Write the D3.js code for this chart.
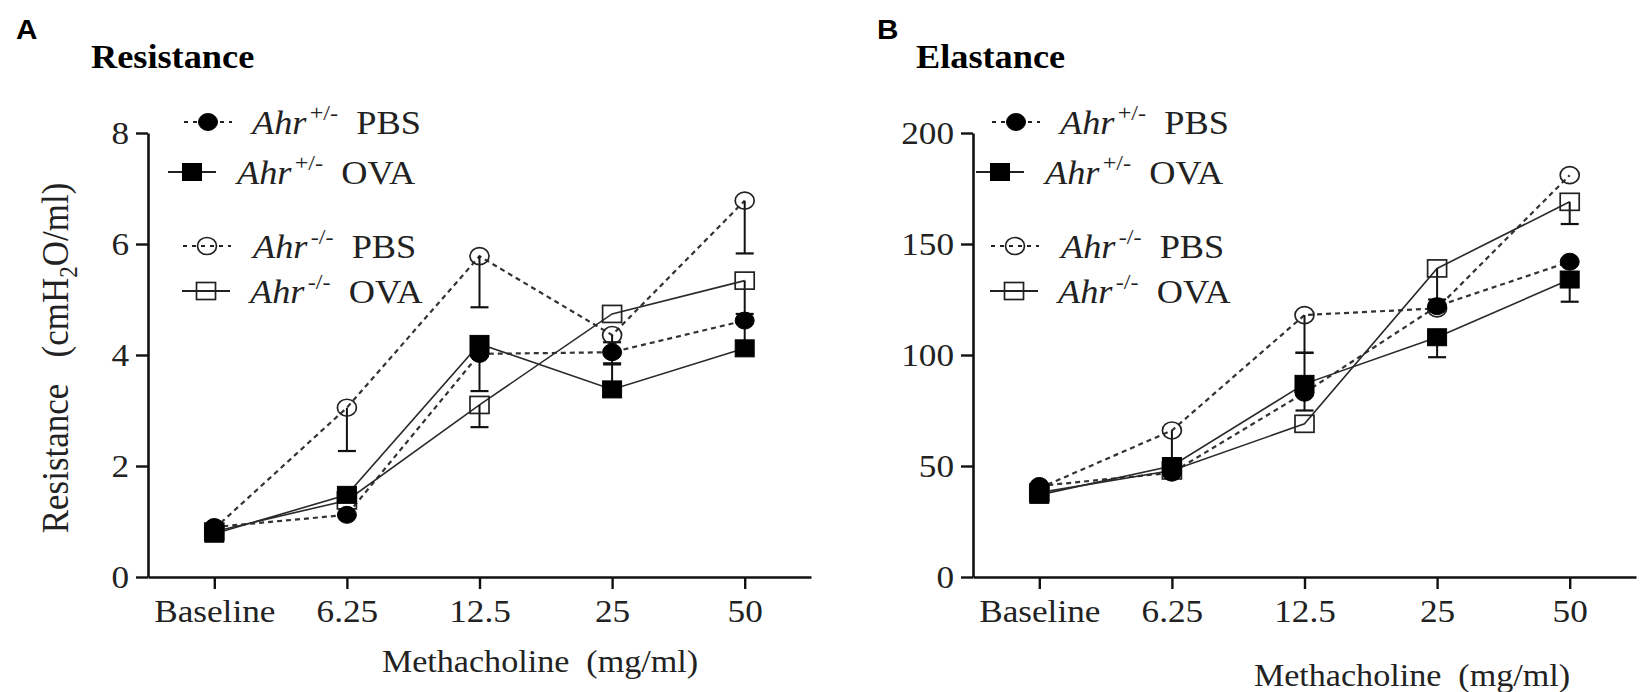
<!DOCTYPE html>
<html>
<head>
<meta charset="utf-8">
<script src="https://cdn.jsdelivr.net/npm/d3@7"></script>
<style>
  body { margin: 0; background: #fff; }
  svg { display: block; }
</style>
</head>
<body>
<div id="chart"></div>
<script>
// Methacholine doses (x categories)
const doses = ["Baseline", "6.25", "12.5", "25", "50"];

// Legend groups: genotype superscript and treatment
const groupGeno = ["+/-", "+/-", "-/-", "-/-"];
const groupTreat = ["PBS", "OVA", "PBS", "OVA"];

// Panel A - Resistance (cmH2O/ml)
const resHetPBS = [0.90, 1.12, 4.02, 4.05, 4.62];
const resHetOVA = [0.78, 1.48, 4.20, 3.38, 4.12];
const resKoPBS  = [0.87, 3.05, 5.78, 4.36, 6.78];
const resKoOVA  = [0.82, 1.38, 3.10, 4.74, 5.34];
// SEM (negative = bar drawn below the point, 0 = hidden)
const resHetPBSErr = [0, 0, 0, -0.20, -0.40];
const resHetOVAErr = [0, 0, -0.85, 0.45, 0];
const resKoPBSErr  = [0, -0.78, -0.92, -0.13, -0.95];
const resKoOVAErr  = [0, 0, -0.40, 0, -0.60];
const resTicks = [0, 2, 4, 6, 8];

// Panel B - Elastance
const elaHetPBS = [41, 47, 83, 122, 142];
const elaHetOVA = [37, 50, 87, 108, 134];
const elaKoPBS  = [40, 66, 118, 121, 181];
const elaKoOVA  = [38, 48, 69, 139, 169];
const elaHetPBSErr = [0, 0, -8, 0, 0];
const elaHetOVAErr = [0, 0, 14, -9, -10];
const elaKoPBSErr  = [0, -14, -17, 0, 0];
const elaKoOVAErr  = [0, 0, 0, -14, -10];
const elaTicks = [0, 50, 100, 150, 200];

const W = 1642, H = 692;
const serif = "'Liberation Serif', 'Times New Roman', serif";
const sx = 1.1; // the source figure is slightly stretched horizontally

const svg = d3.select("#chart").append("svg")
    .attr("width", W)
    .attr("height", H);

// series styles: filled circle dashed, filled square solid, open circle dashed, open square solid
const styles = [
    {shape: "circle", filled: true,  dashed: true},
    {shape: "square", filled: true,  dashed: false},
    {shape: "circle", filled: false, dashed: true},
    {shape: "square", filled: false, dashed: false}
];

function drawMarker(g, shape, filled, cx, cy)
{
    const rx = 9.5, ry = 8.5;
    let m;
    if (shape === "circle")
    {
        m = g.append("ellipse").attr("cx", cx).attr("cy", cy).attr("rx", rx).attr("ry", ry);
    }
    else
    {
        m = g.append("rect").attr("x", cx - rx).attr("y", cy - ry)
            .attr("width", rx * 2).attr("height", ry * 2);
    }
    if (filled)
    {
        m.attr("fill", "#000").attr("stroke", "#000").attr("stroke-width", 1);
    }
    else
    {
        m.attr("fill", "none").attr("stroke", "#222").attr("stroke-width", 1.7);
    }
}

function stretchText(sel, x, y)
{
    return sel.attr("transform", `translate(${x},${y}) scale(${sx},1)`);
}

function drawPanel(p)
{
    const g = svg.append("g");

    const x = d3.scalePoint()
        .domain(doses)
        .range([p.left, p.right])
        .padding(0.5);

    const y = d3.scaleLinear()
        .domain([0, d3.max(p.ticks)])
        .range([577, 133]);

    // Panel letter
    stretchText(g.append("text"), p.letterX, 39)
        .text(p.letter)
        .attr("font-family", "'Liberation Sans', Arial, sans-serif")
        .attr("font-weight", 700)
        .attr("font-size", "27px");

    // Panel title
    stretchText(g.append("text"), p.left - 57, 68)
        .text(p.title)
        .attr("font-family", serif)
        .attr("font-weight", 700)
        .attr("font-size", "33px");

    // Y axis
    const yAxis = g.append("g")
        .attr("transform", `translate(${p.left},0)`)
        .call(d3.axisLeft(y).tickValues(p.ticks).tickSize(12).tickSizeOuter(0).tickPadding(7));
    // X axis
    const xAxis = g.append("g")
        .attr("transform", `translate(0,${y(0)})`)
        .call(d3.axisBottom(x).tickSize(12).tickSizeOuter(0).tickPadding(10));

    [yAxis, xAxis].forEach(ax =>
    {
        ax.select(".domain").attr("stroke", "#111").attr("stroke-width", 2.6);
        ax.selectAll(".tick line").attr("stroke", "#111").attr("stroke-width", 2.4);
        ax.selectAll(".tick text")
            .attr("fill", "#222")
            .attr("font-family", serif)
            .attr("font-size", "32px");
    });
    yAxis.selectAll(".tick text").attr("transform", `scale(${sx},1)`).attr("x", -19 / sx);
    xAxis.selectAll(".tick text").attr("transform", `scale(${sx},1)`);

    // X axis title
    stretchText(g.append("text"), p.xTitleX, p.xTitleY)
        .attr("text-anchor", "middle")
        .attr("font-family", serif)
        .attr("font-size", "31px")
        .attr("fill", "#222")
        .attr("xml:space", "preserve")
        .text("Methacholine  (mg/ml)");

    // Y axis title
    if (p.yTitle)
    {
        const t = g.append("text")
            .attr("transform", `translate(68,358) rotate(-90) scale(1,${sx})`)
            .attr("text-anchor", "middle")
            .attr("font-family", serif)
            .attr("font-size", "35px")
            .attr("fill", "#222")
            .attr("xml:space", "preserve");
        t.append("tspan").text("Resistance   (cmH");
        t.append("tspan").attr("font-size", "23px").attr("dy", 8).text("2");
        t.append("tspan").attr("dy", -8).text("O/ml)");
    }

    // Lines
    p.series.forEach((s, i) =>
    {
        const line = d3.line()
            .x((d, j) => x(doses[j]))
            .y(d => y(d));
        g.append("path")
            .datum(s.values)
            .attr("d", line)
            .attr("fill", "none")
            .attr("stroke", styles[i].dashed ? "#333" : "#2a2a2a")
            .attr("stroke-width", styles[i].dashed ? 2.2 : 1.6)
            .attr("stroke-dasharray", styles[i].dashed ? "5,4" : null);
    });

    // Error bars
    p.series.forEach((s) =>
    {
        s.err.forEach((e, j) =>
        {
            if (e === 0) return;
            const cx = x(doses[j]);
            const y0 = y(s.values[j]);
            const y1 = y(s.values[j] + e);
            g.append("line")
                .attr("x1", cx).attr("x2", cx)
                .attr("y1", y0).attr("y2", y1)
                .attr("stroke", "#111").attr("stroke-width", 2);
            g.append("line")
                .attr("x1", cx - 9).attr("x2", cx + 9)
                .attr("y1", y1).attr("y2", y1)
                .attr("stroke", "#111").attr("stroke-width", 2.2);
        });
    });

    // Markers, open ones first so filled ones sit on top
    [2, 3, 0, 1].forEach(i =>
    {
        p.series[i].values.forEach((v, j) =>
        {
            drawMarker(g, styles[i].shape, styles[i].filled, x(doses[j]), y(v));
        });
    });

    // Legend
    const legY = [122, 172, 246, 291];
    const legX = [208, 192, 207, 206];
    const legHalf = 24;
    const legText = [252, 237, 253, 250];
    const off = p.legendOffset;
    groupTreat.forEach((treat, i) =>
    {
        const lx = legX[i] + off, ly = legY[i];
        g.append("line")
            .attr("x1", lx - legHalf).attr("x2", lx + legHalf)
            .attr("y1", ly).attr("y2", ly)
            .attr("stroke", "#222")
            .attr("stroke-width", styles[i].dashed ? 2.2 : 1.8)
            .attr("stroke-dasharray", styles[i].dashed ? "4,5" : null);
        drawMarker(g, styles[i].shape, styles[i].filled, lx, ly);

        const t = stretchText(g.append("text"), legText[i] + off, ly + 12)
            .attr("font-family", serif)
            .attr("font-size", "33px")
            .attr("fill", "#222")
            .attr("xml:space", "preserve");
        t.append("tspan").attr("font-style", "italic").text("Ahr");
        t.append("tspan").attr("font-size", "22px").attr("dy", -14).attr("dx", 3).text(groupGeno[i]);
        t.append("tspan").attr("dy", 14).text("  " + treat);
    });
}

drawPanel({
    left: 148, right: 811,
    ticks: resTicks,
    letter: "A", letterX: 16,
    title: "Resistance",
    yTitle: true,
    xTitleX: 540, xTitleY: 672,
    legendOffset: 0,
    series: [
        {values: resHetPBS, err: resHetPBSErr},
        {values: resHetOVA, err: resHetOVAErr},
        {values: resKoPBS,  err: resKoPBSErr},
        {values: resKoOVA,  err: resKoOVAErr}
    ]
});

drawPanel({
    left: 973, right: 1636,
    ticks: elaTicks,
    letter: "B", letterX: 877,
    title: "Elastance",
    yTitle: false,
    xTitleX: 1412, xTitleY: 686,
    legendOffset: 808,
    series: [
        {values: elaHetPBS, err: elaHetPBSErr},
        {values: elaHetOVA, err: elaHetOVAErr},
        {values: elaKoPBS,  err: elaKoPBSErr},
        {values: elaKoOVA,  err: elaKoOVAErr}
    ]
});
</script>
</body>
</html>
